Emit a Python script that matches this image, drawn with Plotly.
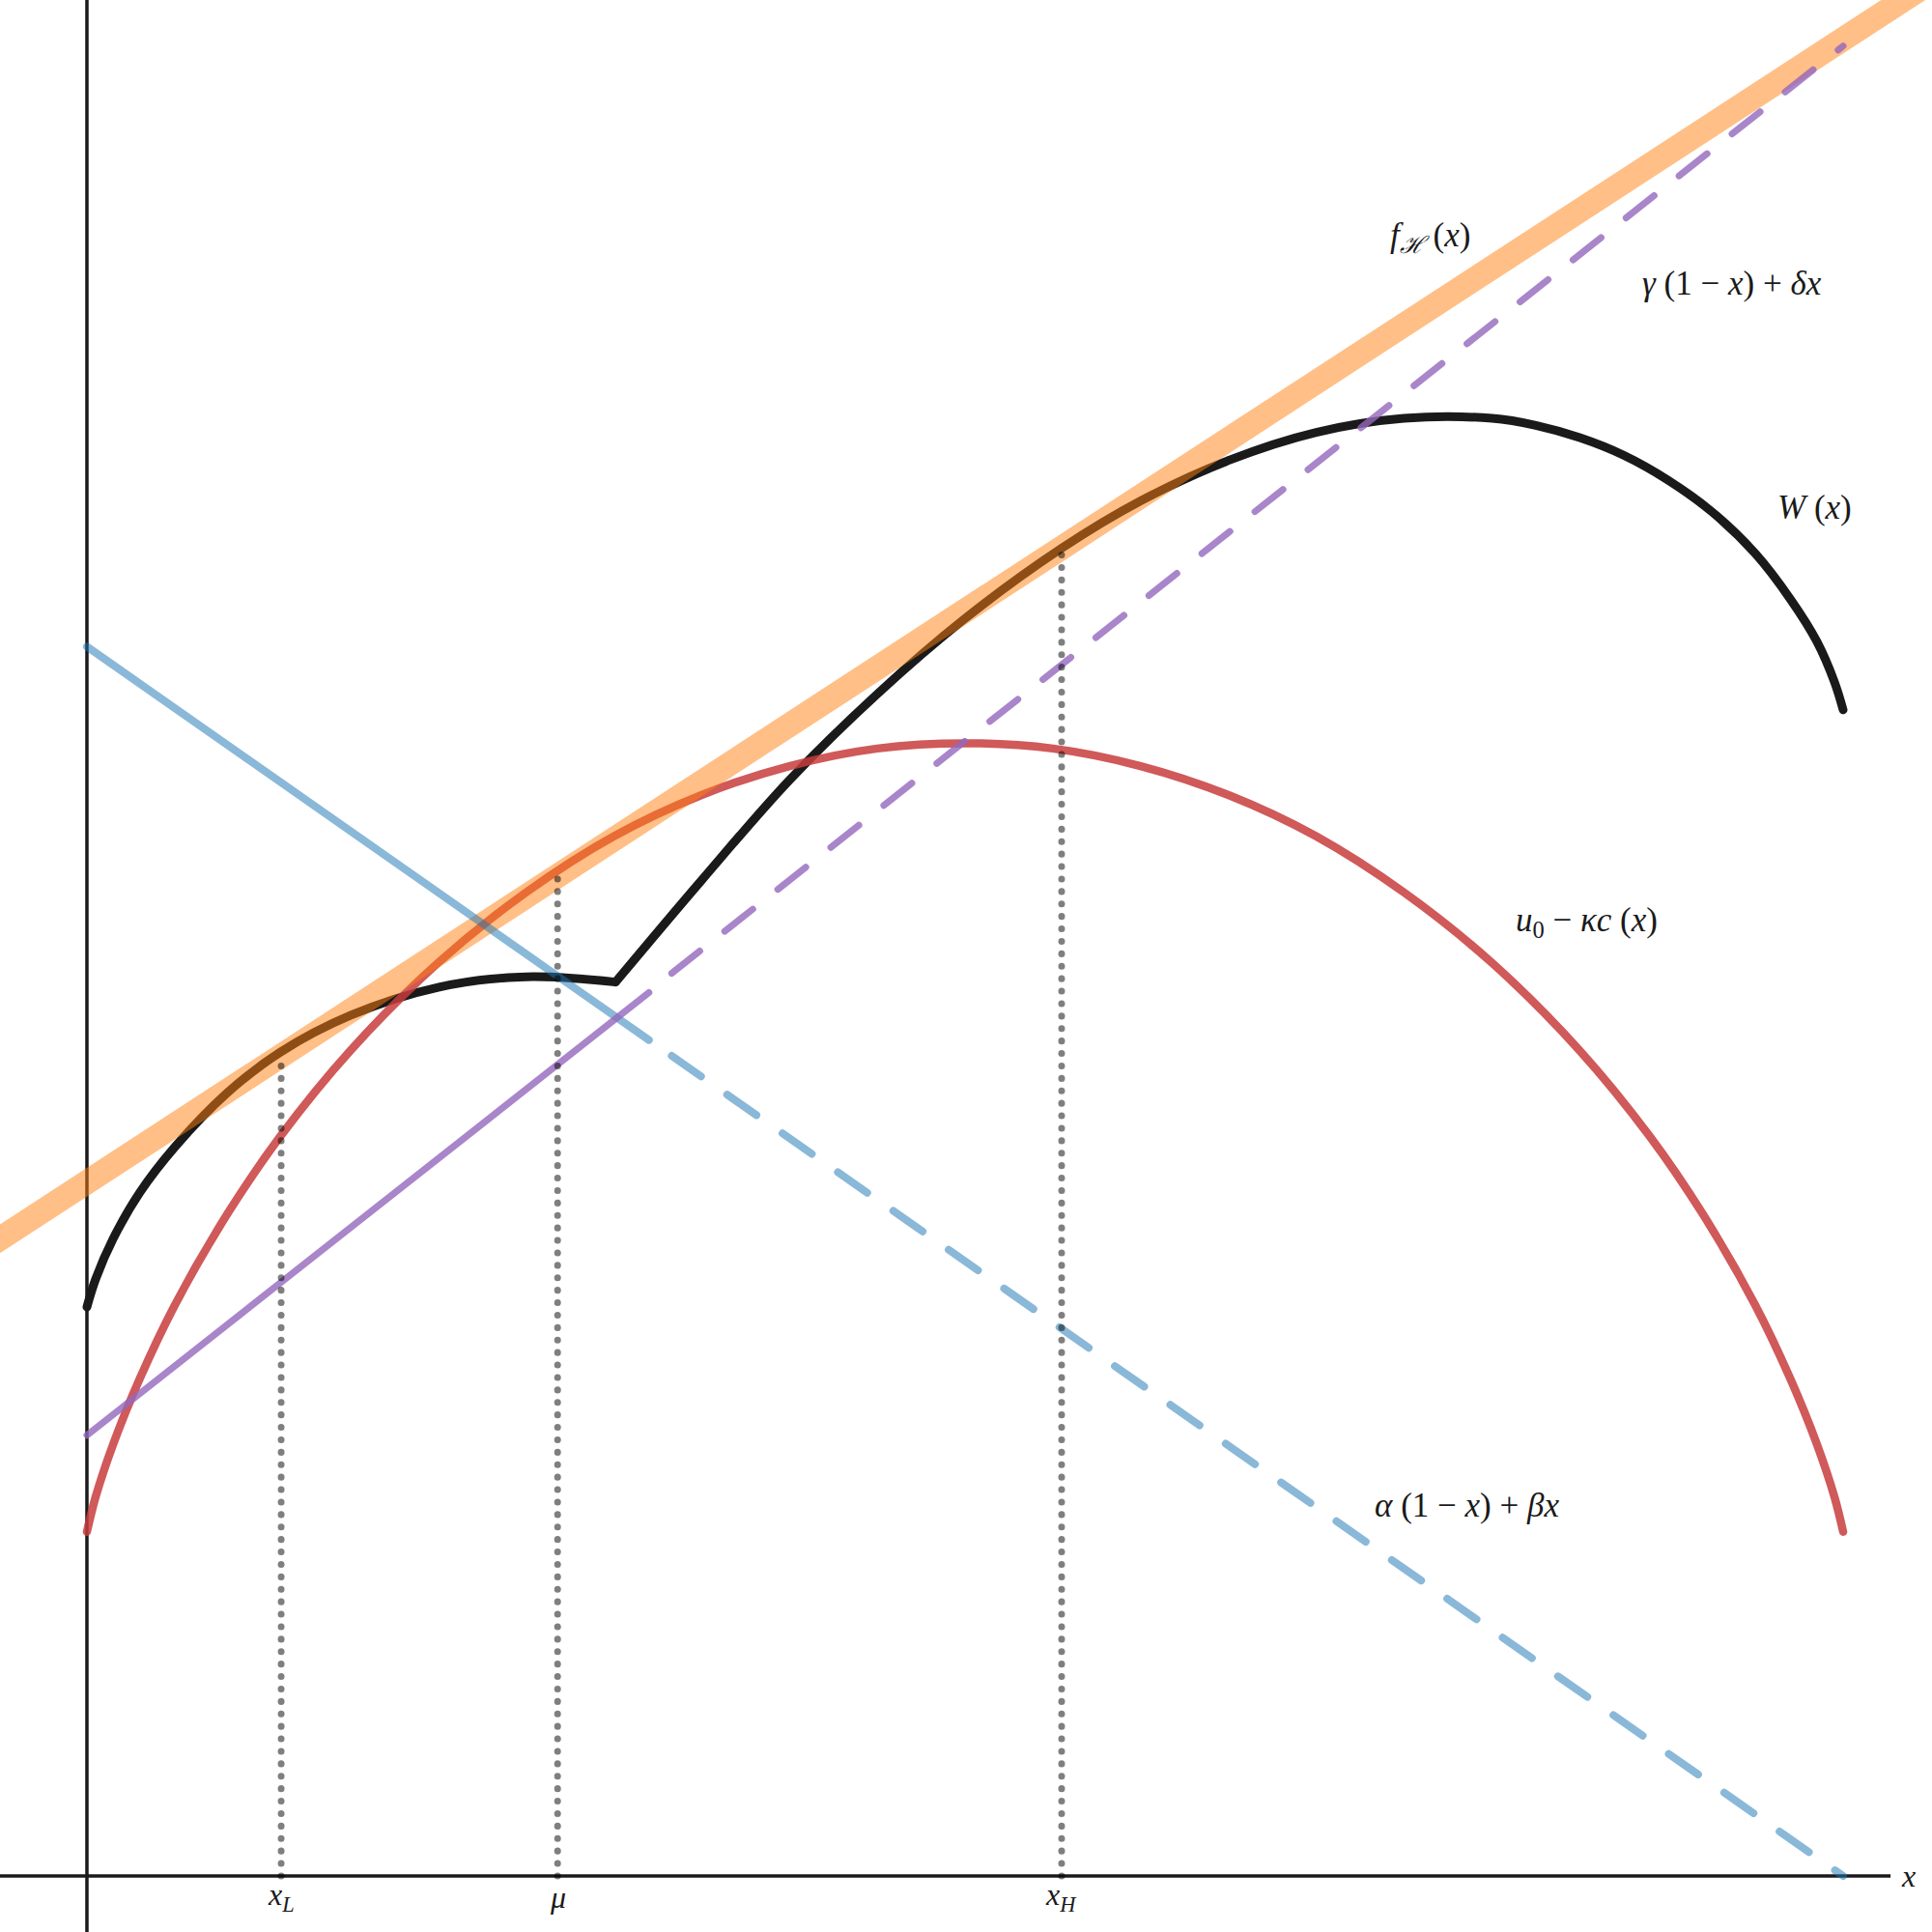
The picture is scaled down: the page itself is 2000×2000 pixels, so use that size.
import plotly.graph_objects as go

# ---------------- data ----------------
# u0 - kappa c(x)  (red curve)
red_x = [0, 0.005, 0.015, 0.03, 0.05, 0.08, 0.11, 0.15, 0.2, 0.25, 0.3, 0.35, 0.4, 0.45, 0.5,
         0.55, 0.6, 0.65, 0.7, 0.75, 0.8, 0.85, 0.89, 0.92, 0.95, 0.97, 0.985, 0.995, 1.0]
red_y = [0.196, 0.216, 0.246, 0.283, 0.325, 0.377, 0.421, 0.470, 0.520, 0.560, 0.592, 0.6155, 0.632, 0.642, 0.645,
         0.642, 0.632, 0.6155, 0.592, 0.560, 0.520, 0.470, 0.421, 0.377, 0.325, 0.283, 0.246, 0.216, 0.196]

# W(x)  (black curve, two branches meeting at the kink)
w1_x = [0, 0.005, 0.015, 0.03, 0.05, 0.08, 0.11, 0.15, 0.2, 0.25, 0.301]
w1_y = [0.324, 0.340, 0.363, 0.389, 0.415, 0.446, 0.469, 0.490, 0.506, 0.512, 0.509]
w2_x = [0.301, 0.35, 0.4, 0.45, 0.5, 0.555, 0.6, 0.65, 0.7, 0.75, 0.8, 0.825, 0.85, 0.875,
        0.9, 0.925, 0.95, 0.97, 0.985, 0.995, 1.0]
w2_y = [0.509, 0.567, 0.624, 0.673, 0.716, 0.756, 0.783, 0.806, 0.822, 0.830, 0.830, 0.826, 0.819, 0.809,
        0.795, 0.777, 0.753, 0.727, 0.703, 0.680, 0.664]

# f_H(x)  (orange supporting line)
orange_x = [-0.06, 1.1]
orange_y = [0.356, 1.111]

# alpha(1-x)+beta x  (blue line: solid part, dashed part)
blue_solid_x = [0.0, 0.32]
blue_solid_y = [0.700, 0.476]
blue_dash_x = [0.333, 1.0]
blue_dash_y = [0.467, 0.0]

# gamma(1-x)+delta x  (purple line: solid part, dashed part)
purple_solid_x = [0.0, 0.32]
purple_solid_y = [0.251, 0.503]
purple_dash_x = [0.333, 1.0]
purple_dash_y = [0.514, 1.042]

# marked points on the x axis
tick_vals = [0.1106, 0.268, 0.555]
tick_tops = [0.467, 0.569, 0.756]
tick_text = ["<i>x</i><sub><i>L</i></sub>", "<i>μ</i>", "<i>x</i><sub><i>H</i></sub>"]

# curve labels
label_text = ["<i>f</i><sub><i>ℋ</i></sub> (<i>x</i>)",
              "<i>γ</i> (1 − <i>x</i>) + <i>δx</i>",
              "<i>W</i> (<i>x</i>)",
              "<i>u</i><sub>0</sub> − <i>κc</i> (<i>x</i>)",
              "<i>α</i> (1 − <i>x</i>) + <i>βx</i>"]
label_x = [0.765, 0.9365, 0.984, 0.854, 0.786]
label_y = [0.933, 0.907, 0.779, 0.543, 0.211]

# ---------------- styles ----------------
FONT = "Liberation Serif"
BLACK = "#1a1a1a"
RED = "rgba(200,60,60,0.85)"
ORANGE = "rgba(255,127,14,0.5)"
BLUE = "rgba(31,119,180,0.52)"
PURPLE = "rgba(148,103,189,0.8)"
GRAY = "rgba(0,0,0,0.5)"

fig = go.Figure()

# axes
fig.add_shape(type="line", x0=0, x1=0, y0=-0.05, y1=1.08, line=dict(color=BLACK, width=3.5), layer="below")
fig.add_shape(type="line", x0=-0.06, x1=1.027, y0=0, y1=0, line=dict(color=BLACK, width=3.5), layer="below")

# W(x)
fig.add_trace(go.Scatter(x=w1_x, y=w1_y, mode="lines", line=dict(color=BLACK, width=9, shape="spline", smoothing=1.0)))
fig.add_trace(go.Scatter(x=w2_x, y=w2_y, mode="lines", line=dict(color=BLACK, width=9, shape="spline", smoothing=1.0)))
# red
fig.add_trace(go.Scatter(x=red_x, y=red_y, mode="lines", line=dict(color=RED, width=8.5, shape="spline", smoothing=1.0)))
# orange
fig.add_trace(go.Scatter(x=orange_x, y=orange_y, mode="lines", line=dict(color=ORANGE, width=25)))
# blue
fig.add_trace(go.Scatter(x=blue_solid_x, y=blue_solid_y, mode="lines", line=dict(color=BLUE, width=8)))
fig.add_trace(go.Scatter(x=blue_dash_x, y=blue_dash_y, mode="lines", line=dict(color=BLUE, width=8, dash="37px,33px")))
# purple
fig.add_trace(go.Scatter(x=purple_solid_x, y=purple_solid_y, mode="lines", line=dict(color=PURPLE, width=7)))
fig.add_trace(go.Scatter(x=purple_dash_x, y=purple_dash_y, mode="lines", line=dict(color=PURPLE, width=7, dash="37px,33px")))
# dotted verticals
for xv, yt in zip(tick_vals, tick_tops):
    fig.add_trace(go.Scatter(x=[xv, xv], y=[0, yt], mode="lines",
                             line=dict(color=GRAY, width=7, dash="0.1px,12.8px")))

for t, xv in zip(tick_text, tick_vals):
    fig.add_annotation(x=xv, y=-0.012, text=t, showarrow=False, xanchor="center", yanchor="middle",
                       font=dict(family=FONT, size=32, color=BLACK))
fig.add_annotation(x=1.037, y=0.0, text="<i>x</i>", showarrow=False, xanchor="center", yanchor="middle",
                   font=dict(family=FONT, size=32, color=BLACK))
for t, xv, yv in zip(label_text, label_x, label_y):
    fig.add_annotation(x=xv, y=yv, text=t, showarrow=False, xanchor="center", yanchor="middle",
                       font=dict(family=FONT, size=35, color=BLACK))

fig.update_layout(
    width=2000, height=2000, margin=dict(l=0, r=0, t=0, b=0),
    paper_bgcolor="white", plot_bgcolor="white", showlegend=False,
    xaxis=dict(range=[-0.0495, 1.0506], visible=False),
    yaxis=dict(range=[-0.0319, 1.0682], visible=False),
)

post = """
document.body.style.margin='0';
document.querySelectorAll('path.js-line').forEach(function(p){
  p.style.strokeLinecap='round'; p.style.strokeLinejoin='round';
});
"""
fig.write_html("out.html", post_script=post, config={"responsive": False, "displayModeBar": False})
